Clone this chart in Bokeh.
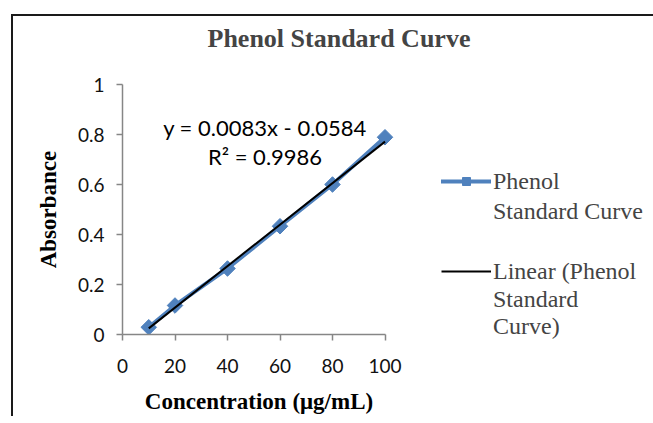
import numpy as np
from bokeh.plotting import figure
from bokeh.models import Range1d, Legend, LegendItem, Label, FixedTicker
from bokeh.embed import file_html
from bokeh.resources import INLINE

# data
conc = [10, 20, 40, 60, 80, 100]
absorb = [0.029, 0.116, 0.264, 0.433, 0.600, 0.789]
slope = 0.0083
intercept = -0.0584
r_squared = 0.9986
x_ticks = [0, 20, 40, 60, 80, 100]
y_ticks = [0, 0.2, 0.4, 0.6, 0.8, 1.0]
title_text = "Phenol Standard Curve"
series_lines = ["Phenol", "Standard Curve"]
trend_lines = ["Linear (Phenol", "Standard\nCurve)"]

fit_x = [min(conc), max(conc)]
fit_y = [slope * v + intercept for v in fit_x]

AXIS_GRAY = "#868686"
BLUE = "#4F81BD"
SANS = "Lato"
SERIF = "Liberation Serif"
EDGE = "#1a1a1a"

p = figure(frame_width=273, frame_height=250, output_backend="svg", toolbar_location=None,
           x_range=Range1d(0, 104), y_range=Range1d(0, 1),
           min_border_left=122, min_border_right=250, min_border_top=84, min_border_bottom=70,
           background_fill_alpha=0, border_fill_alpha=0)
# chart-area edge lines (top and left) drawn behind the transparent canvas
p.styles = {
    "background": (f"linear-gradient({EDGE},{EDGE}) 11px 14px / 2px 100% no-repeat, "
                   f"linear-gradient({EDGE},{EDGE}) 11px 14px / 100% 2px no-repeat"),
}
p.outline_line_color = None
p.grid.visible = False

# title (trailing empty line lifts it above the plot area)
p.title.text = title_text + "\n"
p.title.text_font = SERIF
p.title.text_font_size = "26px"
p.title.text_font_style = "bold"
p.title.align = "left"
p.title.offset = 85
p.title.standoff = 6

line_r = p.line(conc, absorb, line_color=BLUE, line_width=4, line_cap="round", line_join="round")
mark_r = p.scatter(conc, absorb, marker="square", angle=np.pi / 4, size=11,
                   fill_color=BLUE, line_color=BLUE)
trend_r = p.line(fit_x, fit_y, line_color="black", line_width=2)
blank_r = p.line([], [], line_alpha=0)

for ax in (p.xaxis[0], p.yaxis[0]):
    ax.axis_line_color = AXIS_GRAY
    ax.axis_line_width = 1.5
    ax.major_tick_line_color = AXIS_GRAY
    ax.major_tick_line_width = 1.5
    ax.major_tick_out = 6
    ax.major_tick_in = 0
    ax.minor_tick_line_color = None
    ax.major_label_text_font = SANS
    ax.major_label_text_font_size = "19px"
    ax.major_label_text_color = "#111111"
    ax.axis_label_text_font = SERIF
    ax.axis_label_text_font_size = "23px"
    ax.axis_label_text_font_style = "bold"
    ax.axis_label_text_color = "black"

p.xaxis.ticker = FixedTicker(ticks=x_ticks)
p.yaxis.ticker = FixedTicker(ticks=y_ticks)
p.xaxis.bounds = (0, 100)
p.yaxis.bounds = (0, 1)
p.yaxis.major_label_overrides = {0: "0", 1: "1"}
p.xaxis.axis_label = "Concentration (μg/mL)"
p.yaxis.axis_label = "Absorbance"
p.xaxis.major_label_standoff = 18
p.yaxis.major_label_standoff = 12
p.xaxis.axis_label_standoff = 13
p.yaxis.axis_label_standoff = 14

eq1 = Label(x=54.3, y=0.828, text="y = 0.0083x - 0.0584", text_font=SANS, text_font_size="22px",
            text_align="center", text_baseline="middle", text_color="black")
eq2 = Label(x=54.3, y=0.713, text="R² = " + str(r_squared), text_font=SANS, text_font_size="22px",
            text_align="center", text_baseline="middle", text_color="black")
p.add_layout(eq1)
p.add_layout(eq2)

legend = Legend(items=[LegendItem(label=series_lines[0], renderers=[line_r, mark_r]),
                       LegendItem(label=series_lines[1], renderers=[blank_r]),
                       LegendItem(label="\u00a0", renderers=[blank_r]),
                       LegendItem(label=trend_lines[0], renderers=[trend_r]),
                       LegendItem(label=trend_lines[1], renderers=[blank_r])],
                location=(46, -6), orientation="vertical")
legend.label_text_font = SERIF
legend.label_text_font_size = "24px"
legend.label_standoff = 2
legend.glyph_width = 50
legend.glyph_height = 20
legend.label_height = 30
legend.spacing = 0
legend.padding = 0
legend.margin = 0
legend.border_line_color = None
legend.background_fill_alpha = 0
p.add_layout(legend, "right")

open("out.html", "w").write(file_html(p, INLINE))
